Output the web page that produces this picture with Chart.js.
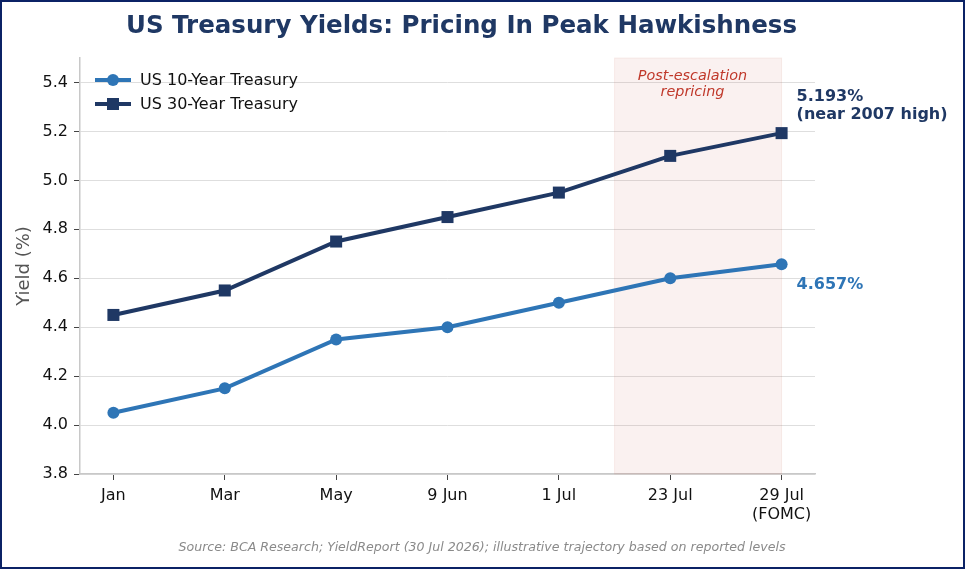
<!DOCTYPE html>
<html>
<head>
<meta charset="utf-8">
<script src="https://cdn.jsdelivr.net/npm/chart.js@4.4.1/dist/chart.umd.min.js"></script>
<style>
  html, body { margin: 0; padding: 0; background: #fff; }
  #frame { width: 965px; height: 569px; box-sizing: border-box; border: 2px solid #0b2265; background: #fff; }
  #wrap { position: relative; width: 961px; height: 565px; }
</style>
</head>
<body>
<div id="frame"><div id="wrap"><canvas id="yieldChart"></canvas></div></div>
<script>
// data
const categories = ['Jan', 'Mar', 'May', '9 Jun', '1 Jul', '23 Jul', ['29 Jul', '(FOMC)']];
const tenYear = [4.05, 4.15, 4.35, 4.40, 4.50, 4.60, 4.657];
const thirtyYear = [4.45, 4.55, 4.75, 4.85, 4.95, 5.10, 5.193];
const yTicks = [3.8, 4.0, 4.2, 4.4, 4.6, 4.8, 5.0, 5.2, 5.4];
const shadeRange = [4.5, 6];

const FONT = '"DejaVu Sans", sans-serif';
const BLUE = '#2e75b6';
const NAVY = '#1f3864';

const toPoints = arr => arr.map((v, i) => ({ x: i, y: v }));

// extra drawing: shade, notes, legend, title, source
const extras = {
  id: 'extras',
  beforeDatasetsDraw(chart) {
    const { ctx, chartArea, scales } = chart;
    const x0 = scales.x.getPixelForValue(shadeRange[0]);
    const x1 = scales.x.getPixelForValue(shadeRange[1]);
    ctx.save();
    ctx.fillStyle = 'rgba(205, 120, 105, 0.10)';
    ctx.fillRect(x0, chartArea.top, x1 - x0, chartArea.bottom - chartArea.top);
    ctx.strokeStyle = 'rgba(205, 120, 105, 0.12)';
    ctx.lineWidth = 1;
    ctx.strokeRect(x0, chartArea.top, x1 - x0, chartArea.bottom - chartArea.top);
    ctx.restore();
  },
  afterDraw(chart) {
    const { ctx, chartArea, scales } = chart;
    ctx.save();

    // title
    ctx.fillStyle = NAVY;
    ctx.font = 'bold 24.5px ' + FONT;
    ctx.textAlign = 'center';
    ctx.textBaseline = 'middle';
    ctx.fillText('US Treasury Yields: Pricing In Peak Hawkishness', 459.5, 25);

    // shade label
    const cx = scales.x.getPixelForValue(5.2);
    ctx.fillStyle = '#c0392b';
    ctx.font = 'italic 14.4px ' + FONT;
    ctx.fillText('Post-escalation', cx, chartArea.top + 18);
    ctx.fillText('repricing', cx, chartArea.top + 34);

    // end labels
    const lastX = scales.x.getPixelForValue(6) + 15;
    ctx.textAlign = 'left';
    ctx.font = 'bold 16px ' + FONT;
    ctx.fillStyle = NAVY;
    const y30 = scales.y.getPixelForValue(thirtyYear[6]);
    ctx.fillText('5.193%', lastX, y30 - 36);
    ctx.fillText('(near 2007 high)', lastX, y30 - 18);
    ctx.fillStyle = BLUE;
    const y10 = scales.y.getPixelForValue(tenYear[6]);
    ctx.fillText('4.657%', lastX, y10 + 21);

    // legend
    const items = [
      { label: 'US 10-Year Treasury', color: BLUE, shape: 'circle' },
      { label: 'US 30-Year Treasury', color: NAVY, shape: 'rect' }
    ];
    items.forEach((it, i) => {
      const ly = chartArea.top + 22 + i * 24;
      const lx = chartArea.left + 15;
      ctx.strokeStyle = it.color;
      ctx.lineWidth = 4;
      ctx.beginPath();
      ctx.moveTo(lx, ly);
      ctx.lineTo(lx + 36, ly);
      ctx.stroke();
      ctx.fillStyle = it.color;
      if (it.shape === 'circle') {
        ctx.beginPath();
        ctx.arc(lx + 18, ly, 6, 0, Math.PI * 2);
        ctx.fill();
      } else {
        ctx.fillRect(lx + 12, ly - 6, 12, 12);
      }
      ctx.fillStyle = '#111';
      ctx.font = '16px ' + FONT;
      ctx.fillText(it.label, lx + 45, ly + 1);
    });

    // source
    ctx.fillStyle = '#8a8a8a';
    ctx.font = 'italic 12.6px ' + FONT;
    ctx.textAlign = 'center';
    ctx.fillText('Source: BCA Research; YieldReport (30 Jul 2026); illustrative trajectory based on reported levels', 480, 546);
    ctx.restore();
  }
};

new Chart(document.getElementById('yieldChart'), {
  type: 'line',
  data: {
    datasets: [
      {
        label: 'US 10-Year Treasury',
        data: toPoints(tenYear),
        borderColor: BLUE,
        backgroundColor: BLUE,
        borderWidth: 4,
        pointStyle: 'circle',
        pointRadius: 6,
        pointBorderWidth: 0,
        pointHoverRadius: 6,
        tension: 0
      },
      {
        label: 'US 30-Year Treasury',
        data: toPoints(thirtyYear),
        borderColor: NAVY,
        backgroundColor: NAVY,
        borderWidth: 4,
        pointStyle: 'rect',
        pointRadius: 8.5,
        pointBorderWidth: 0,
        pointHoverRadius: 8.5,
        tension: 0
      }
    ]
  },
  options: {
    responsive: true,
    maintainAspectRatio: false,
    animation: false,
    layout: { padding: { top: 56, right: 148, bottom: 33, left: 0 } },
    plugins: {
      legend: { display: false },
      title: { display: false },
      tooltip: { enabled: false }
    },
    scales: {
      x: {
        type: 'linear',
        min: -0.3,
        max: 6.3,
        afterBuildTicks: s => { s.ticks = categories.map((c, i) => ({ value: i })); },
        afterFit: s => { s.height = 60; },
        grid: { display: true, drawOnChartArea: false, tickLength: 6, tickColor: '#444' },
        border: { color: '#c8c8c8', width: 1.5 },
        ticks: {
          color: '#111',
          font: { family: FONT, size: 16 },
          padding: 6,
          maxRotation: 0,
          autoSkip: false,
          callback: v => categories[v]
        }
      },
      y: {
        min: 3.8,
        max: 5.5,
        afterBuildTicks: s => { s.ticks = yTicks.map(v => ({ value: v })); },
        afterFit: s => { s.width = 78; },
        grid: { color: '#dedede', lineWidth: 1, tickLength: 6, tickColor: '#444' },
        border: { color: '#c8c8c8', width: 1.5 },
        title: {
          display: true,
          text: 'Yield (%)',
          color: '#555',
          font: { family: FONT, size: 18 },
          padding: { top: 12, bottom: 4 }
        },
        ticks: {
          color: '#111',
          font: { family: FONT, size: 16 },
          padding: 6,
          callback: v => v.toFixed(1)
        }
      }
    }
  },
  plugins: [extras]
});
</script>
</body>
</html>
